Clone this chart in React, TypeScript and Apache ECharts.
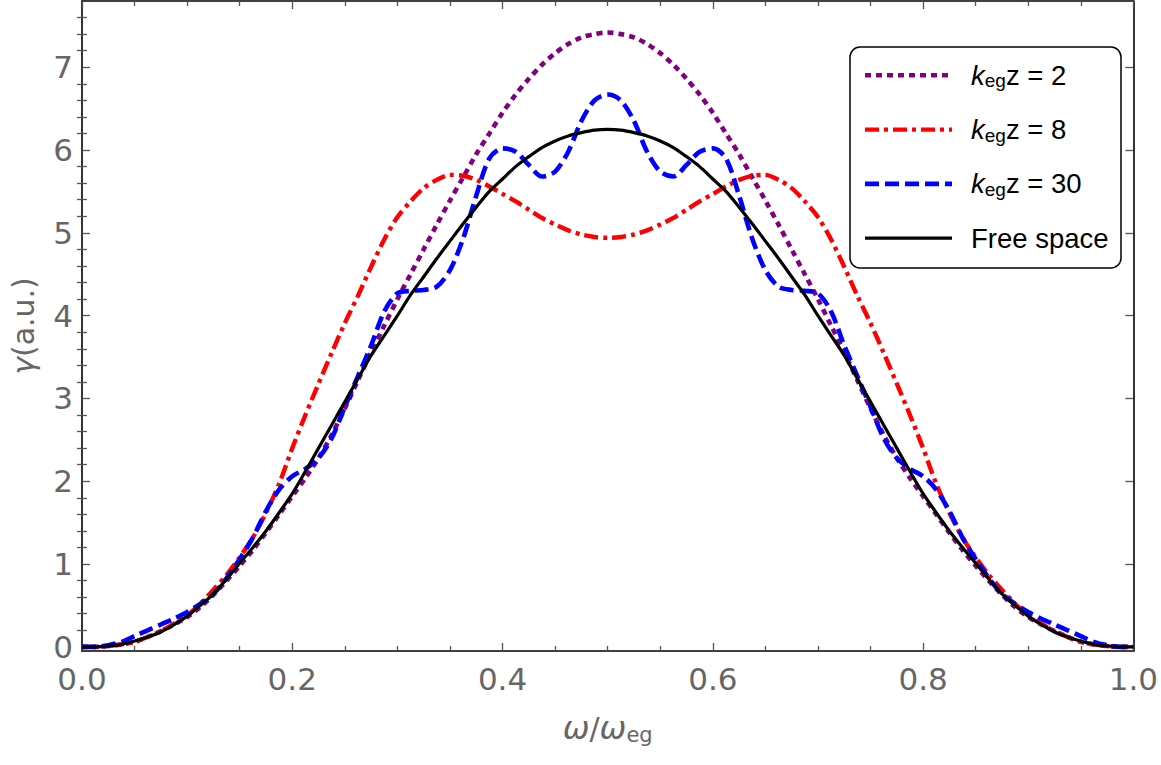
import React, { useEffect, useRef } from 'react';
import * as echarts from 'echarts';

// ω/ω_eg sample points
const omega = [0,0.0125,0.025,0.0375,0.05,0.0625,0.075,0.0875,0.1,0.1125,0.125,0.1375,0.15,0.1625,0.175,0.1875,0.2,0.2125,0.225,0.2375,0.25,0.2625,0.275,0.2875,0.3,0.3125,0.325,0.3375,0.35,0.3625,0.375,0.3875,0.4,0.4125,0.425,0.4375,0.45,0.4625,0.475,0.4875,0.5,0.5125,0.525,0.5375,0.55,0.5625,0.575,0.5875,0.6,0.6125,0.625,0.6375,0.65,0.6625,0.675,0.6875,0.7,0.7125,0.725,0.7375,0.75,0.7625,0.775,0.7875,0.8,0.8125,0.825,0.8375,0.85,0.8625,0.875,0.8875,0.9,0.9125,0.925,0.9375,0.95,0.9625,0.975,0.9875,1];

// k_eg z = 2
const gammaK2 = [0,0,0.01,0.03,0.06,0.12,0.19,0.27,0.36,0.48,0.63,0.8,0.98,1.17,1.38,1.6,1.82,2.04,2.28,2.56,2.88,3.22,3.56,3.88,4.2,4.5,4.8,5.1,5.39,5.67,5.95,6.2,6.45,6.67,6.86,7.03,7.17,7.28,7.36,7.4,7.42,
  7.4,7.36,7.28,7.17,7.03,6.86,6.67,6.45,6.2,5.95,5.67,5.39,5.1,4.8,4.5,4.2,3.88,3.56,3.22,2.88,2.56,2.28,2.04,1.82,1.6,1.38,1.17,0.98,0.8,0.63,0.48,0.36,0.27,0.19,0.12,0.06,0.03,0.01,0,0];

// k_eg z = 8
const gammaK8 = [0,0,0.01,0.03,0.06,0.12,0.19,0.28,0.38,0.52,0.69,0.87,1.08,1.32,1.62,1.97,2.4,2.8,3.18,3.55,3.91,4.24,4.59,4.92,5.19,5.38,5.54,5.64,5.7,5.69,5.64,5.56,5.47,5.38,5.28,5.18,5.1,5.03,4.98,4.95,4.94,
  4.95,4.98,5.03,5.1,5.18,5.28,5.38,5.47,5.56,5.64,5.69,5.7,5.64,5.54,5.38,5.19,4.92,4.59,4.24,3.91,3.55,3.18,2.8,2.4,1.97,1.62,1.32,1.08,0.87,0.69,0.52,0.38,0.28,0.19,0.12,0.06,0.03,0.01,0,0];

// k_eg z = 30
const gammaK30 = [0,0,0.02,0.06,0.13,0.2,0.27,0.34,0.42,0.52,0.64,0.83,1.06,1.32,1.64,1.9,2.06,2.15,2.28,2.52,2.9,3.27,3.64,4.05,4.27,4.3,4.31,4.35,4.55,4.93,5.45,5.9,6.02,5.98,5.82,5.68,5.74,5.98,6.35,6.6,6.67,
  6.6,6.35,5.98,5.74,5.68,5.82,5.98,6.02,5.9,5.45,4.93,4.55,4.35,4.31,4.3,4.27,4.05,3.64,3.27,2.9,2.52,2.28,2.15,2.06,1.9,1.64,1.32,1.06,0.83,0.64,0.52,0.42,0.34,0.27,0.2,0.13,0.06,0.02,0,0];

// Free space
const gammaFree = [0,0,0.01,0.03,0.07,0.12,0.18,0.27,0.37,0.5,0.64,0.82,1.01,1.2,1.4,1.62,1.85,2.12,2.4,2.68,2.96,3.24,3.52,3.76,4.0,4.25,4.47,4.69,4.9,5.11,5.31,5.5,5.65,5.8,5.92,6.03,6.11,6.17,6.21,6.24,6.25,
  6.24,6.21,6.17,6.11,6.03,5.92,5.8,5.65,5.5,5.31,5.11,4.9,4.69,4.47,4.25,4.0,3.76,3.52,3.24,2.96,2.68,2.4,2.12,1.85,1.62,1.4,1.2,1.01,0.82,0.64,0.5,0.37,0.27,0.18,0.12,0.07,0.03,0.01,0,0];

const yMajorTicks = [0, 1, 2, 3, 4, 5, 6, 7];
const yMinorTicks = [0.2,0.4,0.6,0.8,1.2,1.4,1.6,1.8,2.2,2.4,2.6,2.8,3.2,3.4,3.6,3.8,4.2,4.4,4.6,4.8,5.2,5.4,5.6,5.8,6.2,6.4,6.6,6.8,7.2,7.4,7.6];

const seriesLabels = ['2', '8', '30', 'Free space'];
const seriesColors = ['#800080', '#ff0000', '#0000ff', '#000000'];
const seriesDash: any[] = [[6, 5], [14, 5, 4, 5], [14, 6], 'solid'];
const seriesWidth = [4.6, 4.4, 4.6, 3.2];
const seriesData = [gammaK2, gammaK8, gammaK30, gammaFree];

const FONT = '"Liberation Sans", Arial, sans-serif';
const AXFONT = '"DejaVu Sans", sans-serif';
const GRAY = '#666666';

export default function App() {
  const ref = useRef<HTMLDivElement>(null);
  useEffect(() => {
    if (!ref.current) return;
    const chart = echarts.init(ref.current, null, { renderer: 'svg' });

    const axisLine = { show: true, onZero: false, lineStyle: { color: '#000', width: 1.6 } };
    const majorTick = { show: true, inside: true, length: 8, lineStyle: { color: '#555', width: 1.3 } };
    const minorTickStyle = { show: true, splitNumber: 4, length: 5, lineStyle: { color: '#555', width: 1.3 } };

    const series = seriesData.map((vals, i) => ({
      name: seriesLabels[i],
      type: 'line',
      data: omega.map((x, j) => [x, vals[j]]),
      showSymbol: false,
      symbol: 'none',
      smooth: 0.3,
      xAxisIndex: 0,
      yAxisIndex: 0,
      lineStyle: { color: seriesColors[i], width: seriesWidth[i], type: seriesDash[i], cap: 'butt' },
      z: 2 + i,
    }));

    const legendTop = 75.3;
    const legendStep = 54.3;
    const graphic: any[] = [
      {
        type: 'rect', z: 100,
        shape: { x: 850, y: 47, width: 271, height: 221, r: 10 },
        style: { fill: '#fff', stroke: '#000', lineWidth: 1.5 },
      },
    ];
    seriesLabels.forEach((lab, i) => {
      const y = legendTop + i * legendStep;
      graphic.push({
        type: 'line', z: 101,
        shape: { x1: 865, y1: y, x2: 952, y2: y },
        style: { stroke: seriesColors[i], lineWidth: seriesWidth[i], lineDash: seriesDash[i] === 'solid' ? null : seriesDash[i] },
      });
      const txt = i < 3 ? `{k|k}{s|eg}{n|z = ${lab}}` : `{n|${lab}}`;
      graphic.push({
        type: 'text', z: 101, x: 971, y,
        style: {
          text: txt,
          verticalAlign: 'middle',
          fill: '#000',
          font: `27px ${FONT}`,
          rich: {
            k: { fontSize: 27.5, fontStyle: 'italic', fontFamily: FONT, fill: '#000', lineHeight: 30 },
            s: { fontSize: 19, fontFamily: FONT, fill: '#000', lineHeight: 8, verticalAlign: 'bottom' },
            n: { fontSize: 27.5, fontFamily: FONT, fill: '#000', lineHeight: 30 },
          },
        },
      });
    });

    const option: any = {
      animation: false,
      backgroundColor: '#fff',
      grid: { left: 82, right: 26, top: 1, bottom: 114, containLabel: false },
      xAxis: [
        {
          type: 'value', min: 0, max: 1, interval: 0.2, position: 'bottom',
          axisLine, axisTick: majorTick, minorTick: minorTickStyle,
          splitLine: { show: false }, minorSplitLine: { show: false },
          axisLabel: { color: GRAY, fontSize: 31, fontFamily: AXFONT, margin: 12, formatter: (v: number) => v.toFixed(1) },
          name: '{w|ω}{n|/}{w|ω}{s|eg}',
          nameLocation: 'middle', nameGap: 60,
          nameTextStyle: {
            color: GRAY, fontSize: 30, fontFamily: AXFONT,
            rich: {
              w: { color: GRAY, fontSize: 32, fontStyle: 'italic', fontFamily: AXFONT, lineHeight: 34 },
              n: { color: GRAY, fontSize: 30, fontFamily: AXFONT, lineHeight: 34 },
              s: { color: GRAY, fontSize: 21, fontFamily: AXFONT, lineHeight: 14, verticalAlign: 'bottom' },
            },
          },
        },
        {
          type: 'value', min: 0, max: 1, interval: 0.2, position: 'top',
          axisLine, axisTick: majorTick, minorTick: minorTickStyle,
          splitLine: { show: false }, axisLabel: { show: false },
        },
      ],
      yAxis: [
        {
          type: 'value', min: -0.05, max: 7.8, position: 'left',
          axisLine, axisTick: { ...majorTick, customValues: yMajorTicks },
          splitLine: { show: false },
          axisLabel: { color: GRAY, fontSize: 31, fontFamily: AXFONT, margin: 9, customValues: yMajorTicks, formatter: (v: number) => String(Math.round(v)) },
          name: '{g|γ}{n|(a.u.)}',
          nameLocation: 'middle', nameGap: 44,
          nameTextStyle: {
            color: GRAY, fontSize: 30, fontFamily: AXFONT,
            rich: {
              g: { color: GRAY, fontSize: 30, fontStyle: 'italic', fontFamily: AXFONT },
              n: { color: GRAY, fontSize: 30, fontFamily: AXFONT },
            },
          },
        },
        {
          type: 'value', min: -0.05, max: 7.8, position: 'left',
          axisLine: { show: false }, axisTick: { ...majorTick, length: 5, customValues: yMinorTicks },
          splitLine: { show: false }, axisLabel: { show: false },
        },
        {
          type: 'value', min: -0.05, max: 7.8, position: 'right',
          axisLine, axisTick: { ...majorTick, customValues: yMajorTicks },
          splitLine: { show: false }, axisLabel: { show: false },
        },
        {
          type: 'value', min: -0.05, max: 7.8, position: 'right',
          axisLine: { show: false }, axisTick: { ...majorTick, length: 5, customValues: yMinorTicks },
          splitLine: { show: false }, axisLabel: { show: false },
        },
      ],
      series,
      graphic,
    };
    chart.setOption(option);
    return () => chart.dispose();
  }, []);

  return (
    <div
      ref={ref}
      style={{ position: 'absolute', left: 0, top: 0, width: 1161, height: 765, background: '#fff' }}
    />
  );
}
